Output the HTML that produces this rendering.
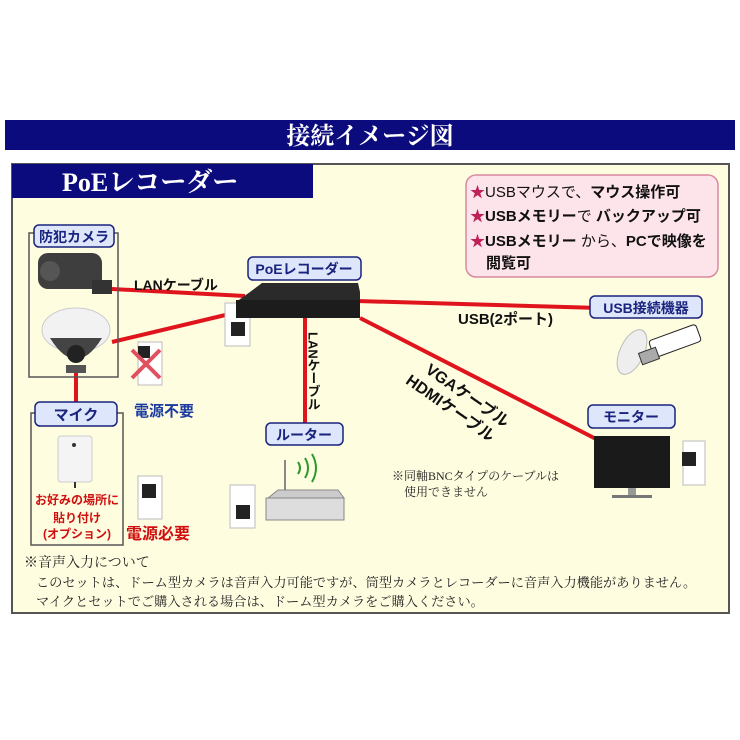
<!DOCTYPE html>
<html><head><meta charset="utf-8"><style>
html,body{margin:0;padding:0;background:#fff;}
svg{display:block;}
text{font-family:"Liberation Sans","Noto Sans CJK JP",sans-serif;}
.s{font-family:"Liberation Serif","Noto Serif CJK SC",serif;}
</style></head><body>
<svg width="740" height="740" viewBox="0 0 740 740" xmlns="http://www.w3.org/2000/svg">
<rect width="740" height="740" fill="#fff"/>
<rect x="5" y="120" width="730" height="30" fill="#0b0b7e"/>
<text x="370" y="144" text-anchor="middle" font-size="24" font-weight="bold" fill="#fff" class="s">接続イメージ図</text>
<rect x="12" y="164" width="717" height="449" fill="#fffde0" stroke="#555" stroke-width="2"/>
<rect x="12" y="164" width="301" height="34" fill="#0b0b7e"/>
<text x="62" y="191" font-size="26" font-weight="bold" fill="#fff" class="s">PoEレコーダー</text>
<rect x="466" y="175" width="252" height="102" rx="10" fill="#fde3ea" stroke="#d88aa0" stroke-width="1.5"/>
<g font-size="15" font-weight="bold" fill="#111">
<text x="470" y="197"><tspan fill="#c0205a">★</tspan><tspan font-weight="normal">USBマウスで、</tspan>マウス操作可</text>
<text x="470" y="221"><tspan fill="#c0205a">★</tspan>USBメモリー<tspan font-weight="normal">で </tspan>バックアップ可</text>
<text x="470" y="246"><tspan fill="#c0205a">★</tspan>USBメモリー <tspan font-weight="normal">から、</tspan>PCで映像を</text>
<text x="486" y="268">閲覧可</text>
</g>
<g stroke="#e0141c" stroke-width="4" fill="none">
<line x1="112" y1="289" x2="245" y2="296"/>
<line x1="112" y1="342" x2="238" y2="312"/>
<line x1="254" y1="298" x2="600" y2="308"/>
<line x1="305" y1="318" x2="305" y2="424"/>
<line x1="360" y1="318" x2="598" y2="440"/>
<line x1="76" y1="372" x2="76" y2="402"/>
</g>
<rect x="29" y="233" width="89" height="144" fill="none" stroke="#555" stroke-width="1.5"/>
<rect x="34" y="225" width="80" height="22" rx="5" fill="#dde6fb" stroke="#1a237e" stroke-width="1.5"/>
<text x="74" y="242" text-anchor="middle" font-size="14" font-weight="bold" fill="#1a237e">防犯カメラ</text>
<rect x="38" y="253" width="64" height="36" rx="10" fill="#3e3e3e"/>
<rect x="92" y="280" width="20" height="14" fill="#333"/>
<circle cx="50" cy="271" r="10" fill="#555"/>
<ellipse cx="76" cy="330" rx="34" ry="22" fill="#f2f2f2" stroke="#ccc"/>
<path d="M50 338 Q76 380 102 338 Z" fill="#444"/>
<circle cx="76" cy="354" r="9" fill="#222"/>
<rect x="66" y="365" width="20" height="8" fill="#555"/>
<g fill="#fff" stroke="#bbb">
<rect x="225" y="303" width="25" height="43"/>
<rect x="138" y="342" width="24" height="43"/>
<rect x="138" y="476" width="24" height="43"/>
<rect x="230" y="485" width="25" height="43"/>
<rect x="683" y="441" width="22" height="44"/>
</g>
<g fill="#222">
<rect x="231" y="322" width="14" height="14"/>
<rect x="142" y="484" width="14" height="14"/>
<rect x="236" y="505" width="14" height="14"/>
<rect x="682" y="452" width="14" height="14"/>
<rect x="138" y="346" width="12" height="12"/>
</g>
<path d="M132 350 L160 378 M160 350 L132 378" stroke="#e05060" stroke-width="4"/>
<rect x="248" y="257" width="113" height="23" rx="5" fill="#dde6fb" stroke="#1a237e" stroke-width="1.5"/>
<text x="304" y="274" text-anchor="middle" font-size="14" font-weight="bold" fill="#1a237e">PoEレコーダー</text>
<path d="M250 292 L262 283 L358 283 L360 292 L360 318 L236 318 L236 302 Z" fill="#2a2a2a"/>
<rect x="236" y="300" width="124" height="18" fill="#1c1c1c"/>
<text x="313" y="332" font-size="13" font-weight="bold" fill="#111" writing-mode="tb">LANケーブル</text>
<text x="458" y="324" font-size="15" font-weight="bold" fill="#111">USB(2ポート)</text>
<rect x="590" y="296" width="112" height="22" rx="5" fill="#dde6fb" stroke="#1a237e" stroke-width="1.5"/>
<text x="646" y="313" text-anchor="middle" font-size="14" font-weight="bold" fill="#1a237e">USB接続機器</text>
<ellipse cx="632" cy="352" rx="12" ry="24" fill="#eee" stroke="#bbb" transform="rotate(25 632 352)"/>
<rect x="650" y="332" width="50" height="18" rx="3" fill="#fff" stroke="#222" transform="rotate(-20 675 341)"/>
<rect x="640" y="350" width="18" height="12" fill="#aaa" stroke="#333" transform="rotate(-20 649 356)"/>
<text x="134" y="290" font-size="14" font-weight="bold" fill="#111">LANケーブル</text>
<rect x="31" y="413" width="92" height="132" fill="none" stroke="#555" stroke-width="1.5"/>
<rect x="35" y="402" width="82" height="24" rx="5" fill="#dde6fb" stroke="#1a237e" stroke-width="1.5"/>
<text x="76" y="420" text-anchor="middle" font-size="15" font-weight="bold" fill="#1a237e">マイク</text>
<rect x="58" y="436" width="34" height="46" rx="3" fill="#f4f4f4" stroke="#ccc"/>
<circle cx="74" cy="445" r="2" fill="#333"/>
<line x1="75" y1="482" x2="75" y2="488" stroke="#333" stroke-width="2"/>
<g font-size="12" font-weight="bold" fill="#d01010" text-anchor="middle">
<text x="77" y="504">お好みの場所に</text>
<text x="77" y="522">貼り付け</text>
<text x="77" y="538">(オプション)</text>
</g>
<text x="134" y="416" font-size="15" font-weight="bold" fill="#1a3aa0">電源不要</text>
<text x="126" y="539" font-size="16" font-weight="bold" fill="#d01010">電源必要</text>
<rect x="266" y="423" width="77" height="22" rx="5" fill="#dde6fb" stroke="#1a237e" stroke-width="1.5"/>
<text x="304" y="440" text-anchor="middle" font-size="14" font-weight="bold" fill="#1a237e">ルーター</text>
<line x1="285" y1="460" x2="285" y2="492" stroke="#888" stroke-width="2"/>
<path d="M268 498 L278 490 L338 490 L344 498 Z" fill="#ccc" stroke="#888"/>
<rect x="266" y="498" width="78" height="22" fill="#ddd" stroke="#888"/>
<path d="M298 462 q4 6 0 12 M305 458 q6 10 0 20 M312 454 q8 14 0 28" stroke="#2a9a2a" stroke-width="2" fill="none"/>
<g transform="rotate(35 445 395)" font-size="16" font-weight="bold" fill="#111">
<text x="415" y="388">VGAケーブル</text>
<text x="405" y="408">HDMIケーブル</text>
</g>
<text x="392" y="480" font-size="12" fill="#222" class="s">※同軸BNCタイプのケーブルは</text>
<text x="404" y="496" font-size="12" fill="#222" class="s">使用できません</text>
<rect x="588" y="405" width="87" height="23" rx="5" fill="#dde6fb" stroke="#1a237e" stroke-width="1.5"/>
<text x="631" y="422" text-anchor="middle" font-size="14" font-weight="bold" fill="#1a237e">モニター</text>
<rect x="594" y="436" width="76" height="52" fill="#1a1a1a"/>
<rect x="628" y="488" width="8" height="8" fill="#999"/>
<rect x="612" y="495" width="40" height="3" fill="#777"/>
<text x="24" y="567" font-size="14" fill="#222" class="s">※音声入力について</text>
<text x="36" y="587" font-size="13.2" fill="#222" class="s">このセットは、ドーム型カメラは音声入力可能ですが、筒型カメラとレコーダーに音声入力機能がありません。</text>
<text x="36" y="606" font-size="13.2" fill="#222" class="s">マイクとセットでご購入される場合は、ドーム型カメラをご購入ください。</text>
</svg>
</body></html>
